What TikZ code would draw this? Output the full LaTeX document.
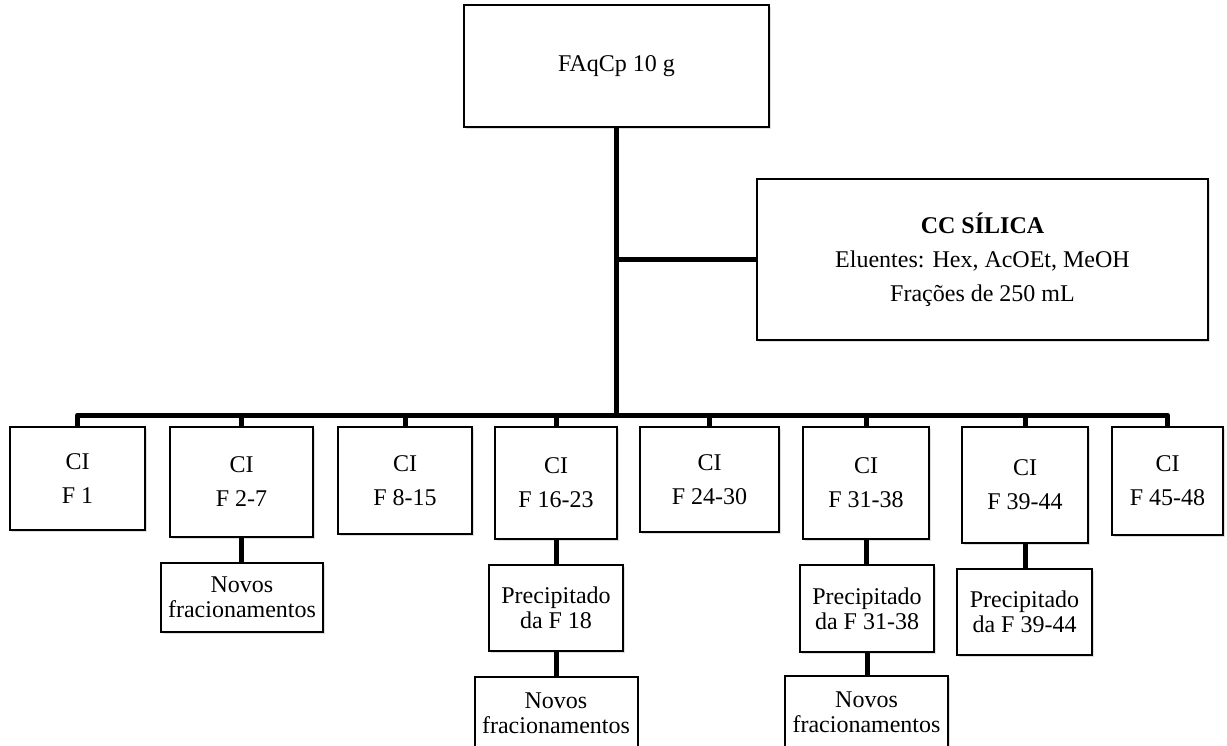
\documentclass[tikz,border=0pt]{standalone}
\usepackage{fontspec}
\setmainfont{Liberation Serif}
\usetikzlibrary{shadows}

\begin{document}
\begin{tikzpicture}[x=1pt,y=-1pt,
    box/.style={draw,line width=2pt,fill=white,inner sep=0pt,align=center,
        drop shadow={shadow xshift=1.5pt,shadow yshift=-2pt,opacity=0.25}},
    big box/.style={box,font=\fontsize{24}{34}\selectfont},
    small box/.style={box,font=\fontsize{24}{25}\selectfont},
    link/.style={line width=5pt,line join=round}]
            \clip (0,0) rectangle (1227,746);

            \node[big box,minimum width=305pt,minimum height=122pt] (top) at (616.5,66) {FAqCp 10 g};
            \node[big box,minimum width=451pt,minimum height=161pt] (cc) at (982.5,259.5) {\textbf{CC SÍLICA}\\Eluentes: Hex, AcOEt, MeOH\\Frações de 250 mL};

            \node[big box,minimum width=135pt,minimum height=103pt] (f1) at (77.5,478.5) {CI\\F 1};
            \node[big box,minimum width=143pt,minimum height=110pt] (f2) at (241.5,482) {CI\\F 2-7};
            \node[big box,minimum width=134pt,minimum height=107pt] (f3) at (405,480.5) {CI\\F 8-15};
            \node[big box,minimum width=122pt,minimum height=112pt] (f4) at (556,483) {CI\\F 16-23};
            \node[big box,minimum width=139pt,minimum height=105pt] (f5) at (709.5,479.5) {CI\\F 24-30};
            \node[big box,minimum width=126pt,minimum height=112pt] (f6) at (866,483) {CI\\F 31-38};
            \node[big box,minimum width=126pt,minimum height=116pt] (f7) at (1025,485) {CI\\F 39-44};
            \node[big box,minimum width=111pt,minimum height=108pt] (f8) at (1167.5,481) {CI\\F 45-48};

            \node[small box,minimum width=162pt,minimum height=69pt] (n2) at (242,597.5) {Novos\\fracionamentos};
            \node[small box,minimum width=134pt,minimum height=86pt] (p4) at (556,608) {Precipitado\\da F 18};
            \node[small box,minimum width=163pt,minimum height=72pt] (n4) at (556,713) {Novos\\fracionamentos};
            \node[small box,minimum width=134pt,minimum height=87pt] (p6) at (867,608.5) {Precipitado\\da F 31-38};
            \node[small box,minimum width=163pt,minimum height=72pt] (n6) at (866.5,712) {Novos\\fracionamentos};
            \node[small box,minimum width=135pt,minimum height=86pt] (p7) at (1024.5,612) {Precipitado\\da F 39-44};

            \coordinate (bus) at (616,415);

            \draw[link] (top.south) -- (top.south |- bus);
            \draw[link] (top.south |- cc.west) -- (cc.west);
            \draw[link] (f1.north) -- (f1.north |- bus) -- (f8.north |- bus) -- (f8.north);
            \foreach \n in {f2,f3,f4,f5,f6,f7}
                \draw[link] (\n.north |- bus) -- (\n.north);

            \draw[link] (f2.south) -- (f2.south |- n2.north);
            \draw[link] (f4.south) -- (f4.south |- p4.north);
            \draw[link] (p4.south) -- (p4.south |- n4.north);
            \draw[link] (f6.south) -- (f6.south |- p6.north);
            \draw[link] (p6.south) -- (p6.south |- n6.north);
            \draw[link] (f7.south) -- (f7.south |- p7.north);
        \end{tikzpicture}
\end{document}
